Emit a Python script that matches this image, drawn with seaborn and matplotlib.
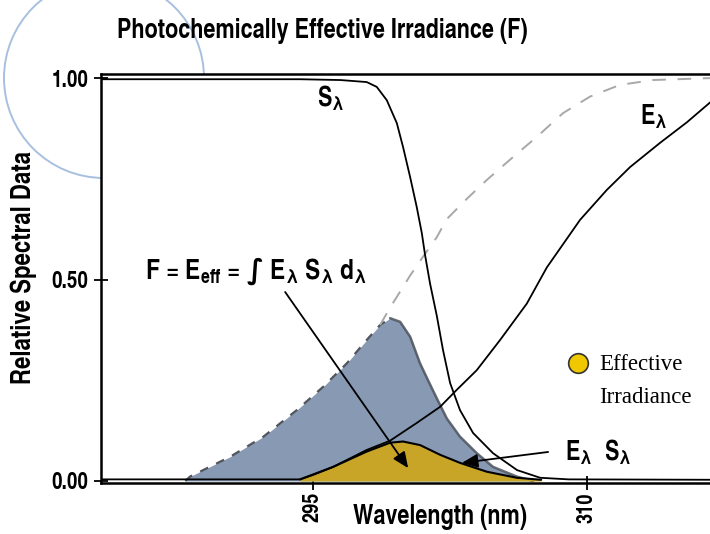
import matplotlib
matplotlib.use("Agg")
import matplotlib.pyplot as plt
from matplotlib.patches import Circle
import seaborn as sns

# ---------------- data ----------------
# Spectral sensitivity S_lambda
s_wl = [283.4, 294.3, 296.5, 297.94, 298.49, 299.04, 299.59, 299.93, 300.32, 300.68,
        300.96, 301.14, 301.41, 301.78, 302.12, 302.51, 303.05, 303.77, 304.86,
        306.18, 307.44, 309.0, 316.9]
s_val = [0.997, 0.997, 0.995, 0.99, 0.978, 0.945, 0.888, 0.829, 0.754, 0.68,
         0.615, 0.56, 0.49, 0.41, 0.325, 0.243, 0.176, 0.119, 0.069,
         0.027, 0.008, 0.004, 0.003]

# Spectral irradiance E_lambda
e_wl = [283.4, 294.29, 295.0, 296.10, 297.94, 299.22, 300.68, 301.96, 302.87, 303.97,
        305.25, 306.71, 307.81, 309.63, 311.09, 312.37, 314.01, 315.48, 316.9]
e_val = [0.004, 0.004, 0.015, 0.035, 0.077, 0.10, 0.144, 0.184, 0.226, 0.275,
         0.35, 0.44, 0.53, 0.648, 0.722, 0.779, 0.839, 0.89, 0.945]

# Dashed reference curve
d_wl = [288.0, 288.26, 290.45, 292.28, 294.11, 295.56, 296.85, 297.94, 298.67, 299.22,
        299.77, 300.32, 301.0, 301.78, 302.33, 303.42, 304.52, 305.96, 307.26, 308.70,
        310.18, 311.82, 313.63, 316.9]
d_val = [0.0, 0.011, 0.06, 0.11, 0.176, 0.234, 0.292, 0.35, 0.387, 0.43,
         0.47, 0.51, 0.555, 0.605, 0.65, 0.70, 0.747, 0.804, 0.854, 0.913,
         0.954, 0.983, 0.995, 1.0]

# Blue shaded area
b_wl = [288.0, 288.26, 290.45, 292.28, 294.11, 295.56, 296.85, 297.94, 298.67, 299.22,
        299.77, 300.32, 300.86, 301.3, 301.78, 302.33, 303.05, 303.97, 304.86,
        306.16, 307.05]
b_val = [0.0, 0.011, 0.06, 0.11, 0.176, 0.234, 0.292, 0.35, 0.387, 0.404,
         0.395, 0.358, 0.292, 0.25, 0.205, 0.155, 0.11, 0.069, 0.035,
         0.011, 0.0]
b_peak_index = 9

# Effective irradiance E_lambda * S_lambda (yellow area)
es_wl = [294.29, 296.10, 297.94, 299.22, 299.93, 300.87, 301.96, 303.05, 304.52,
         306.16, 307.5]
es_val = [0.004, 0.035, 0.073, 0.095, 0.098, 0.089, 0.065, 0.045, 0.023,
          0.008, 0.003]

x_ticks = [295, 310]
x_ticklabels = ["295", "310"]
y_ticks = [0.0, 0.5, 1.0]
y_ticklabels = ["0.00", "0.50", "1.00"]

title = "Photochemically Effective Irradiance (F)"
xlabel = "Wavelength (nm)"
ylabel = "Relative Spectral Data"

# ---------------- style ----------------
sns.set_theme(style="white")
COND = "TeX Gyre Heros Cn"
plt.rcParams["font.family"] = [COND, "DejaVu Sans"]
plt.rcParams["font.weight"] = "bold"
plt.rcParams["mathtext.fontset"] = "custom"
plt.rcParams["mathtext.rm"] = COND + ":bold"
plt.rcParams["mathtext.it"] = COND
plt.rcParams["mathtext.bf"] = COND + ":bold"
plt.rcParams["mathtext.sf"] = "DejaVu Sans"
plt.rcParams["mathtext.fallback"] = "stixsans"
plt.rcParams["text.color"] = "black"

W, H = 710, 534
fig = plt.figure(figsize=(W / 100, H / 100), dpi=100)
fig.patch.set_facecolor("white")
ax = fig.add_axes([101 / W, 51 / H, 611 / W, 409 / H])
ax.set_facecolor("white")

# decorative circle behind the axes
circ = Circle((104 / 100, (H - 78) / 100), 1.0, transform=fig.dpi_scale_trans,
              fill=False, edgecolor="#a8c0df", lw=1.4, zorder=-5)
fig.add_artist(circ)

# blue area with halo and dark soft edge
ax.plot(b_wl, b_val, color="white", lw=7, zorder=1.9, solid_capstyle="round")
ax.fill_between(b_wl, b_val, 0, color="#8799b3", lw=0, zorder=2)
ax.plot(b_wl[:b_peak_index + 1], b_val[:b_peak_index + 1], color="#3f444c", lw=1.6,
        linestyle=(0, (4, 4)), alpha=0.9, zorder=2.1)
ax.plot(b_wl[b_peak_index:], b_val[b_peak_index:], color="#4d535c", lw=1.8,
        alpha=0.85, zorder=2.1)

# dashed curve
sns.lineplot(x=d_wl[b_peak_index - 1:], y=d_val[b_peak_index - 1:], ax=ax,
             color="#a8a8a8", lw=1.4, linestyle=(0, (7, 6)), zorder=3)

# yellow area
ax.fill_between(es_wl, es_val, 0, color="#c8a526", lw=0, zorder=4)
sns.lineplot(x=es_wl, y=es_val, ax=ax, color="black", lw=1.5, zorder=5)

# S and E curves
sns.lineplot(x=s_wl, y=s_val, ax=ax, color="black", lw=1.3, zorder=6)
sns.lineplot(x=e_wl, y=e_val, ax=ax, color="black", lw=1.3, zorder=6)

ax.set_xlim(283.38, 316.86)
ax.set_ylim(-0.005, 1.01)

for side in ["left", "bottom", "top"]:
    ax.spines[side].set_visible(True)
    ax.spines[side].set_color("black")
    ax.spines[side].set_linewidth(1.8)
ax.spines["right"].set_visible(False)

ax.set_xticks(x_ticks)
ax.set_xticklabels(x_ticklabels, rotation=90, fontsize=16, fontweight="bold")
ax.set_yticks(y_ticks)
ax.set_yticklabels(y_ticklabels, fontsize=16.5, fontweight="bold")
ax.tick_params(axis="both", which="both", direction="inout", length=10, width=1.3,
               color="black", labelcolor="black", bottom=True, left=True,
               top=False, right=False)
ax.tick_params(axis="y", pad=4)
ax.tick_params(axis="x", pad=1.5)
ax.set_xlabel("")
ax.set_ylabel("")

# titles / axis labels
fig.text(322 / W, 1 - 38 / H, title, ha="center", va="baseline",
         fontsize=19, fontweight="bold")
fig.text(440 / W, 1 - 530 / H, xlabel, ha="center", va="bottom",
         fontsize=19, fontweight="bold")
fig.text(24 / W, 1 - 268 / H, ylabel, ha="center", va="center", rotation=90,
         fontsize=19.5, fontweight="bold")

# curve labels
ax.text(295.2, 0.95, r"S$_{\lambda}$", fontsize=19, ha="left", va="center", zorder=8)
ax.text(312.9, 0.905, r"E$_{\lambda}$", fontsize=19, ha="left", va="center", zorder=8)
ax.text(291.9, 0.52,
        r"F = E$_{\mathrm{eff}}$ = $\mathsf{∫}$ E$_{\lambda}$ S$_{\lambda}$ d$_{\lambda}$",
        fontsize=20, ha="center", va="center", zorder=8)
ax.text(308.8, 0.072, r"E$_{\lambda}$  S$_{\lambda}$", fontsize=19,
        ha="left", va="center", zorder=8)

# arrows
arrow_kw = dict(arrowstyle="-|>,head_length=0.8,head_width=0.35", color="black",
                lw=1.3, shrinkA=0, shrinkB=0)
ax.annotate("", xy=(300.21, 0.032), xytext=(293.47, 0.469),
            arrowprops=arrow_kw, zorder=9)
ax.annotate("", xy=(303.16, 0.045), xytext=(307.88, 0.072),
            arrowprops=arrow_kw, zorder=9)

# legend-like marker
ax.scatter([309.5], [0.293], s=200, color="#efc800", edgecolor="#333333",
           linewidth=1.2, zorder=9)
ax.text(310.7, 0.288, "Effective", fontsize=16.5, family="Liberation Serif",
        fontweight="normal", ha="left", va="center", zorder=9)
ax.text(310.7, 0.207, "Irradiance", fontsize=16.5, family="Liberation Serif",
        fontweight="normal", ha="left", va="center", zorder=9)

fig.savefig("out.png", dpi=100, facecolor="white")
